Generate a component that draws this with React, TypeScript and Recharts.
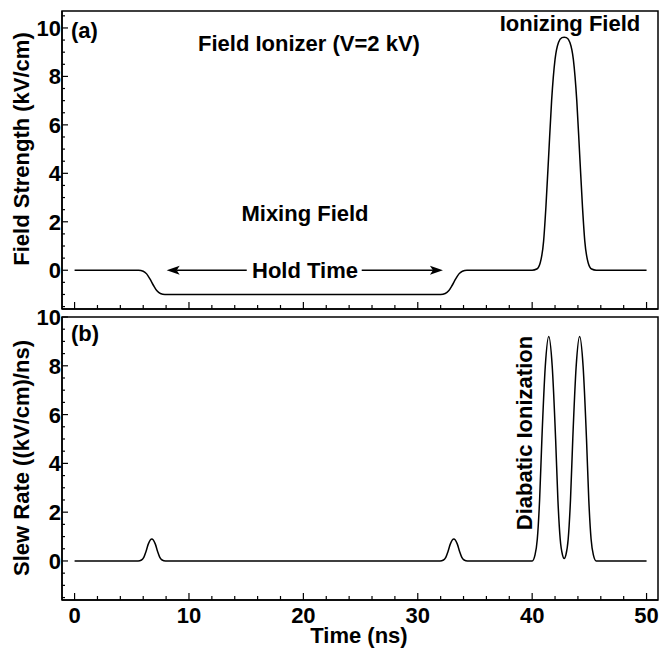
import React from 'react';
import { LineChart, Line, XAxis, YAxis, ReferenceArea, ReferenceLine } from 'recharts';

// panel (a): field strength vs time
const fieldTime = [
  0, 5.6, 6.0, 6.3, 6.6, 6.9, 7.2, 7.5, 7.9,
  32.0, 32.4, 32.7, 33.0, 33.3, 33.6, 33.9, 34.3,
  40.0, 40.4, 40.7, 41.0, 41.2, 41.45, 41.7, 42.0, 42.3, 42.6, 42.8,
  43.0, 43.3, 43.6, 43.9, 44.15, 44.4, 44.6, 44.9, 45.2, 45.6, 50,
];
const fieldValue = [
  0, 0, -0.04, -0.15, -0.37, -0.63, -0.85, -0.96, -1.0,
  -1.0, -0.96, -0.85, -0.63, -0.37, -0.15, -0.04, 0,
  0, 0.05, 0.3, 1.2, 2.6, 4.8, 7.0, 8.7, 9.4, 9.6, 9.62,
  9.6, 9.4, 8.7, 7.0, 4.8, 2.6, 1.2, 0.3, 0.05, 0, 0,
];

// panel (b): slew rate vs time
const slewTime = [
  0, 5.55, 5.85, 6.05, 6.25, 6.45, 6.75, 7.05, 7.25, 7.45, 7.65, 7.95,
  31.95, 32.25, 32.45, 32.65, 32.85, 33.15, 33.45, 33.65, 33.85, 34.05, 34.35,
  40.0, 40.25, 40.45, 40.65, 40.85, 41.15, 41.45, 41.75, 42.05, 42.25, 42.45, 42.65, 42.8,
  42.95, 43.15, 43.35, 43.55, 43.85, 44.15, 44.45, 44.75, 44.95, 45.15, 45.35, 45.6, 50,
];
const slewValue = [
  0, 0, 0.04, 0.15, 0.4, 0.7, 0.9, 0.7, 0.4, 0.15, 0.04, 0,
  0, 0.04, 0.15, 0.4, 0.7, 0.9, 0.7, 0.4, 0.15, 0.04, 0,
  0, 0.25, 0.9, 2.5, 5.0, 8.0, 9.2, 8.0, 5.0, 2.5, 0.9, 0.25, 0.1,
  0.25, 0.9, 2.5, 5.0, 8.0, 9.2, 8.0, 5.0, 2.5, 0.9, 0.25, 0, 0,
];

const timeTicks = [0, 2, 4, 6, 8, 10, 12, 14, 16, 18, 20, 22, 24, 26, 28, 30, 32, 34, 36, 38, 40, 42, 44, 46, 48, 50];
const fieldTicks = [-1.5, -1, -0.5, 0, 0.5, 1, 1.5, 2, 2.5, 3, 3.5, 4, 4.5, 5, 5.5, 6, 6.5, 7, 7.5, 8, 8.5, 9, 9.5, 10, 10.5];
const slewTicks = [-1.5, -1, -0.5, 0, 0.5, 1, 1.5, 2, 2.5, 3, 3.5, 4, 4.5, 5, 5.5, 6, 6.5, 7, 7.5, 8, 8.5, 9, 9.5, 10];

const timeDomain = [-1.1, 51];
const fieldDomain = [-1.6, 10.7];
const slewDomain = [-1.6, 10];

const fieldData = fieldTime.map((t, i) => ({ t, v: fieldValue[i] }));
const slewData = slewTime.map((t, i) => ({ t, v: slewValue[i] }));

const FONT = '"Liberation Sans", Arial, Helvetica, sans-serif';
const textStyle = { fontFamily: FONT, fontWeight: 700, fontSize: 22, fill: '#000' };

// y ticks point into the plot; labels on even integers only
const YTick = (props: any) => {
  const { x, y, payload } = props;
  const v = payload.value;
  const major = Number.isInteger(v) && v % 2 === 0;
  return (
    <g>
      <line x1={x} y1={y} x2={x + (major ? 6 : 3)} y2={y} stroke="#000" strokeWidth={1.2} />
      {major && (
        <text x={x - 1} y={y} dy="0.36em" textAnchor="end" style={textStyle}>
          {v}
        </text>
      )}
    </g>
  );
};

const makeXTick = (showLabel: boolean) => (props: any) => {
  const { x, y, payload } = props;
  const v = payload.value;
  const major = v % 10 === 0;
  return (
    <g>
      <line x1={x} y1={y} x2={x} y2={y - (major ? 7 : 4)} stroke="#000" strokeWidth={1.2} />
      {showLabel && major && (
        <text x={x} y={y + 23} textAnchor="middle" style={textStyle}>
          {v}
        </text>
      )}
    </g>
  );
};

// line with a filled barbed head at the (x2, y2) end
const arrowShape = (props: any) => {
  const { x1, y1, x2, y2 } = props;
  const dir = x2 > x1 ? 1 : -1;
  const len = 13;
  const half = 4.5;
  const notch = 3;
  const pts = [
    [x2, y2],
    [x2 - dir * len, y2 - half],
    [x2 - dir * (len - notch), y2],
    [x2 - dir * len, y2 + half],
  ]
    .map((p) => p.join(','))
    .join(' ');
  return (
    <g>
      <line x1={x1} y1={y1} x2={x2 - dir * (len - notch)} y2={y2} stroke="#000" strokeWidth={1.5} />
      <polygon points={pts} fill="#000" />
    </g>
  );
};

export default function App() {
  return (
    <div style={{ position: 'relative', width: 661, height: 648, background: '#fff' }}>
      <style>{'body{margin:0}'}</style>

      {/* (a) field strength */}
      <div style={{ position: 'absolute', left: 0, top: 0 }}>
        <LineChart width={661} height={312} data={fieldData} margin={{ top: 11, right: 3, bottom: 0, left: 0 }}>
          <XAxis
            dataKey="t"
            type="number"
            domain={timeDomain}
            ticks={timeTicks}
            interval={0}
            height={3}
            tickSize={0}
            tickMargin={0}
            tickLine={false}
            axisLine={{ stroke: '#000', strokeWidth: 1.5 }}
            tick={makeXTick(false)}
            allowDataOverflow
          />
          <YAxis
            type="number"
            domain={fieldDomain}
            ticks={fieldTicks}
            interval={0}
            width={62}
            tickSize={0}
            tickMargin={0}
            tickLine={false}
            axisLine={{ stroke: '#000', strokeWidth: 1.5 }}
            tick={YTick}
            allowDataOverflow
          />
          <ReferenceArea
            x1={timeDomain[0]}
            x2={timeDomain[1]}
            y1={fieldDomain[0]}
            y2={fieldDomain[1]}
            fill="none"
            fillOpacity={0}
            stroke="#000"
            strokeWidth={1.5}
          />
          <ReferenceLine segment={[{ x: 15.05, y: 0 }, { x: 8.05, y: 0 }]} shape={arrowShape} />
          <ReferenceLine segment={[{ x: 25.1, y: 0 }, { x: 32.2, y: 0 }]} shape={arrowShape} />
          <Line
            type="monotone"
            dataKey="v"
            stroke="#000"
            strokeWidth={1.5}
            dot={false}
            isAnimationActive={false}
          />
        </LineChart>
      </div>

      {/* (b) slew rate */}
      <div style={{ position: 'absolute', left: 0, top: 298 }}>
        <LineChart width={661} height={350} data={slewData} margin={{ top: 19, right: 3, bottom: 0, left: 0 }}>
          <XAxis
            dataKey="t"
            type="number"
            domain={timeDomain}
            ticks={timeTicks}
            interval={0}
            height={48}
            tickSize={0}
            tickMargin={0}
            tickLine={false}
            axisLine={{ stroke: '#000', strokeWidth: 1.5 }}
            tick={makeXTick(true)}
            allowDataOverflow
          />
          <YAxis
            type="number"
            domain={slewDomain}
            ticks={slewTicks}
            interval={0}
            width={62}
            tickSize={0}
            tickMargin={0}
            tickLine={false}
            axisLine={{ stroke: '#000', strokeWidth: 1.5 }}
            tick={YTick}
            allowDataOverflow
          />
          <ReferenceArea
            x1={timeDomain[0]}
            x2={timeDomain[1]}
            y1={slewDomain[0]}
            y2={slewDomain[1]}
            fill="none"
            fillOpacity={0}
            stroke="#000"
            strokeWidth={1.5}
          />
          <Line
            type="monotone"
            dataKey="v"
            stroke="#000"
            strokeWidth={1.5}
            dot={false}
            isAnimationActive={false}
          />
        </LineChart>
      </div>

      {/* annotations and axis titles */}
      <svg
        width={661}
        height={648}
        style={{ position: 'absolute', left: 0, top: 0, pointerEvents: 'none' }}
      >
        <text x={71} y={38} style={textStyle}>(a)</text>
        <text x={309} y={51} textAnchor="middle" style={textStyle}>Field Ionizer (V=2 kV)</text>
        <text x={570} y={31} textAnchor="middle" style={textStyle}>Ionizing Field</text>
        <text x={305} y={221} textAnchor="middle" style={textStyle}>Mixing Field</text>
        <text x={305} y={278} textAnchor="middle" style={textStyle}>Hold Time</text>
        <text x={71} y={341} style={textStyle}>(b)</text>
        <text x={532} y={433} textAnchor="middle" transform="rotate(-90 532 433)" style={textStyle}>
          Diabatic Ionization
        </text>
        <text x={29} y={149} textAnchor="middle" transform="rotate(-90 29 149)" style={textStyle}>
          Field Strength (kV/cm)
        </text>
        <text x={29} y={458} textAnchor="middle" transform="rotate(-90 29 458)" style={textStyle}>
          Slew Rate ((kV/cm)/ns)
        </text>
        <text x={359} y={643} textAnchor="middle" style={textStyle}>Time (ns)</text>
      </svg>
    </div>
  );
}
